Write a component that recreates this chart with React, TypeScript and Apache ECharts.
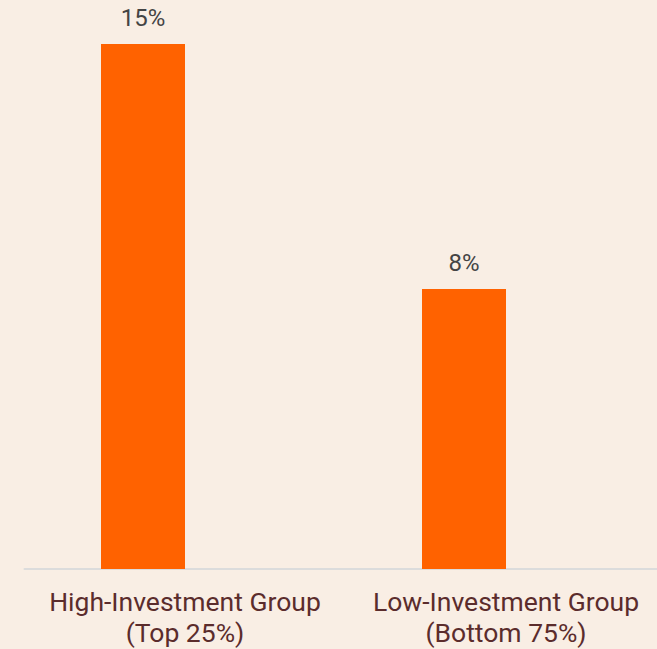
import React, { useEffect, useRef } from "react";
import * as echarts from "echarts";

const categories = ["High-Investment Group\n(Top 25%)", "Low-Investment Group\n(Bottom 75%)"];
const values = [15, 8];
const emptyValues = ["-", "-"];

export default function App() {
  const ref = useRef<HTMLDivElement>(null);
  useEffect(() => {
    const chart = echarts.init(ref.current!, null, { renderer: "svg" });
    chart.setOption({
      animation: false,
      backgroundColor: "#f9eee4",
      grid: { left: 24.5, right: 13.5, top: 44, bottom: 80, containLabel: false },
      xAxis: {
        type: "category",
        data: categories,
        axisTick: { show: false },
        axisLine: { lineStyle: { color: "#dcdcdc", width: 2 } },
        axisLabel: {
          color: "#5b2c2c",
          fontFamily: "Roboto",
          fontSize: 26.5,
          lineHeight: 31,
          margin: 17,
          interval: 0,
        },
      },
      yAxis: {
        type: "value",
        min: 0,
        max: 15,
        show: false,
        splitLine: { show: false },
      },
      series: [
        {
          type: "bar",
          data: values,
          barWidth: 84,
          barGap: "0%",
          itemStyle: { color: "#ff6200" },
          label: {
            show: true,
            position: "top",
            distance: 14,
            formatter: "{c}%",
            color: "#444444",
            fontFamily: "Roboto",
            fontSize: 24,
          },
        },
        {
          type: "bar",
          data: emptyValues,
          barWidth: 84,
          itemStyle: { color: "#ff6200" },
        },
      ],
    });
    return () => chart.dispose();
  }, []);
  return (
    <div
      style={{
        position: "fixed",
        left: 0,
        top: 0,
        width: 657,
        height: 649,
        overflow: "hidden",
        background: "#f9eee4",
      }}
    >
      <div ref={ref} style={{ width: 680, height: 649 }} />
    </div>
  );
}
